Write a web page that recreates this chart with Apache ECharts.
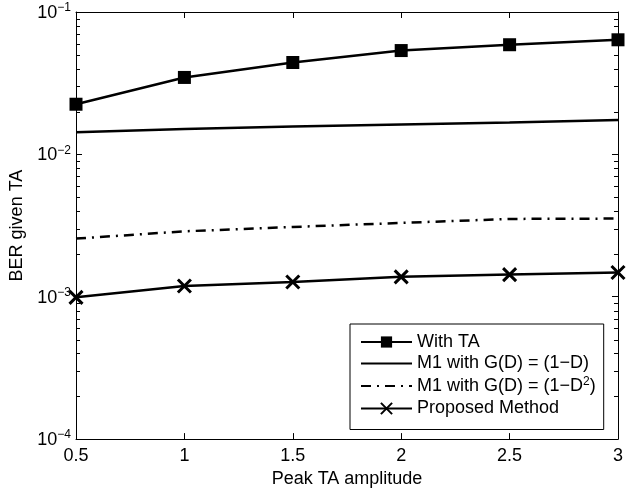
<!DOCTYPE html>
<html>
<head>
<meta charset="utf-8">
<title>BER given TA</title>
<script src="https://cdn.jsdelivr.net/npm/echarts@6/dist/echarts.min.js"></script>
<style>
  html, body { margin: 0; padding: 0; background: #fff; }
  #chart { width: 626px; height: 493px; }
</style>
</head>
<body>
<div id="chart"></div>
<script>
// values
const amplitudes = [0.5, 1, 1.5, 2, 2.5, 3];
const withTA = [0.0225, 0.0347, 0.0442, 0.0536, 0.0589, 0.0638];
const m1Linear = [0.0143, 0.0151, 0.0157, 0.0162, 0.01675, 0.0174];
const m1Square = [0.00256, 0.00288, 0.00309, 0.0033, 0.00352, 0.00354];
const proposed = [0.00099, 0.00119, 0.00127, 0.00138, 0.00143, 0.00148];

const legendNames = ["With TA", "M1 with G(D) = (1\u2212D)", "M1 with G(D) = (1\u2212D2)", "Proposed Method"];
const minorTicks = [
  2e-4, 3e-4, 4e-4, 5e-4, 6e-4, 7e-4, 8e-4, 9e-4,
  2e-3, 3e-3, 4e-3, 5e-3, 6e-3, 7e-3, 8e-3, 9e-3,
  2e-2, 3e-2, 4e-2, 5e-2, 6e-2, 7e-2, 8e-2, 9e-2
];

const font = "'Liberation Sans', Arial, Helvetica, sans-serif";
const black = "#000";

const pairs = (ys) => amplitudes.map((x, i) => [x, ys[i]]);

const xBase = {
  type: "value",
  min: 0.5,
  max: 3,
  interval: 0.5,
  axisLine: { onZero: false, lineStyle: { color: black, width: 1 } },
  axisTick: { inside: true, length: 6, lineStyle: { color: black } },
  splitLine: { show: false },
};

const yBase = {
  type: "log",
  logBase: 10,
  min: 1e-4,
  max: 1e-1,
  axisLine: { lineStyle: { color: black, width: 1 } },
  axisTick: { inside: true, length: 6, lineStyle: { color: black } },
  splitLine: { show: false },
};

// short inward ticks at 2..9 x 10^k on both y sides
const renderMinorTick = (params, api) => {
  const v = api.value(1);
  const left = api.coord([0.5, v]);
  const right = api.coord([3, v]);
  const y = Math.round(left[1]) + 0.5;
  const style = { stroke: black, lineWidth: 1 };
  return {
    type: "group",
    children: [
      { type: "line", shape: { x1: left[0], y1: y, x2: left[0] + 4, y2: y }, style },
      { type: "line", shape: { x1: right[0], y1: y, x2: right[0] - 4, y2: y }, style },
    ],
  };
};

const noSymbol = { color: "rgba(0,0,0,0)", borderWidth: 0 };

const chart = echarts.init(document.getElementById("chart"));

chart.setOption({
  animation: false,
  textStyle: { fontFamily: font, color: black },
  grid: { left: 74, right: 5, top: 12, bottom: 50 },
  xAxis: [
    {
      ...xBase,
      position: "bottom",
      axisLabel: { margin: 8, fontSize: 18, color: black, fontFamily: font },
      name: "Peak TA amplitude",
      nameLocation: "middle",
      nameGap: 26,
      nameTextStyle: { fontSize: 18, color: black, fontFamily: font },
    },
    {
      ...xBase,
      position: "top",
      axisLabel: { show: false },
    },
  ],
  yAxis: [
    {
      ...yBase,
      position: "left",
      axisLabel: {
        margin: 5,
        formatter: (v) => {
          const e = Math.round(Math.log10(v));
          return "{b|10}{s|\u2212" + Math.abs(e) + "}";
        },
        rich: {
          b: { fontSize: 18, fontFamily: font, color: black, lineHeight: 20, verticalAlign: "bottom" },
          s: { fontSize: 12, fontFamily: font, color: black, lineHeight: 12, verticalAlign: "top" },
        },
      },
      name: "BER given TA",
      nameLocation: "middle",
      nameGap: 50,
      nameTextStyle: { fontSize: 18, color: black, fontFamily: font },
    },
    { ...yBase, position: "right", axisLabel: { show: false } },
  ],
  legend: {
    orient: "vertical",
    left: 350,
    top: 324,
    itemWidth: 51,
    itemHeight: 14,
    itemGap: 3.5,
    padding: [9, 8, 12, 10],
    borderColor: black,
    borderWidth: 1,
    backgroundColor: "#fff",
    selectedMode: false,
    data: [
      { name: legendNames[0] },
      { name: legendNames[1], itemStyle: noSymbol },
      { name: legendNames[2], itemStyle: noSymbol },
      { name: legendNames[3] },
    ],
    textStyle: {
      fontSize: 18,
      color: black,
      fontFamily: font,
      rich: {
        a: { fontSize: 18, fontFamily: font, color: black, lineHeight: 18 },
        s: { fontSize: 12, fontFamily: font, color: black, lineHeight: 12, padding: [0, 0, 8, 0] },
      },
    },
    formatter: (name) => {
      if (name.endsWith("D2)")) {
        return "{a|M1 with G(D) = (1\u2212D}{s|2}{a|)}";
      }
      return name;
    },
  },
  series: [
    {
      name: legendNames[0],
      type: "line",
      data: pairs(withTA),
      symbol: "rect",
      symbolSize: 13,
      lineStyle: { color: black, width: 2.5 },
      itemStyle: { color: black },
      z: 5,
    },
    {
      name: legendNames[1],
      type: "line",
      data: pairs(m1Linear),
      symbol: "none",
      lineStyle: { color: black, width: 2.5 },
      itemStyle: { color: black },
    },
    {
      name: legendNames[2],
      type: "line",
      data: pairs(m1Square),
      symbol: "none",
      lineStyle: { color: black, width: 2.5, type: [10, 6, 2, 6] },
      itemStyle: { color: black },
    },
    {
      name: legendNames[3],
      type: "line",
      data: pairs(proposed),
      symbol: "path://M0,0L10,10M10,0L0,10",
      symbolSize: 13,
      lineStyle: { color: black, width: 2.5 },
      itemStyle: { color: "rgba(0,0,0,0)", borderColor: black, borderWidth: 3 },
      z: 5,
    },
    {
      name: "minor ticks",
      type: "custom",
      data: minorTicks.map((v) => [0.5, v]),
      encode: { x: 0, y: 1 },
      renderItem: renderMinorTick,
      silent: true,
      clip: false,
    },
  ],
});
</script>
</body>
</html>
